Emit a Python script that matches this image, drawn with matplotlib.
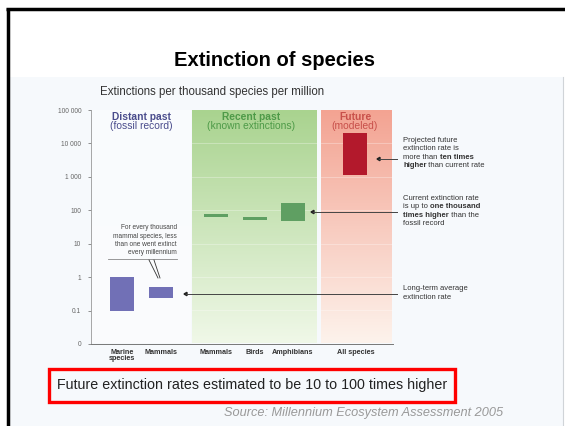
import numpy as np
import matplotlib
matplotlib.use('Agg')
import matplotlib.pyplot as plt
from matplotlib.patches import Rectangle, FancyArrow
from matplotlib.lines import Line2D

plt.rcParams['font.family'] = ['Liberation Sans', 'DejaVu Sans']

# data: extinctions per thousand species per million years (log scale)
categories = ['Marine\nspecies', 'Mammals', 'Mammals', 'Birds', 'Amphibians', 'All species']
rate_low = [0.1, 0.23, 65, 50, 47, 1150]
rate_high = [1.0, 0.5, 75, 65, 160, 20000]
period = ['distant', 'distant', 'recent', 'recent', 'recent', 'future']
ytick_vals = [0.01, 0.1, 1, 10, 100, 1000, 10000, 100000]
ytick_labels = ['0', '0.1', '1', '10', '100', '1 000', '10 000', '100 000']

# layout (pixels of the 565x426 picture)
W, H = 565, 426
bar_x = [31, 70, 125, 164, 202, 264.5]
bar_colors = {'distant': '#7170b6', 'recent': '#5f9f62', 'future': '#b3192c'}


def fx(x):
    return x / W


def fy(y):
    return 1 - y / H


fig = plt.figure(figsize=(W / 100, H / 100), dpi=100)

# slide frame and picture background
bg = fig.add_axes([0, 0, 1, 1], zorder=0)
bg.axis('off')
bg.add_patch(Rectangle((10, 77), 553, H - 77, color='#f6f9fc', lw=0))
bg.plot([563, 563], [77, H], color='#d0d4d8', lw=0.8)
bg.plot([6, W], [9, 9], color='black', lw=2.5, solid_capstyle='butt')
bg.plot([8, 8], [8, H], color='black', lw=2.5, solid_capstyle='butt')


# gradient panels behind the chart
def gradient(x0, x1, top, bottom):
    grad = np.linspace(0, 1, 256)[:, None, None]
    c0 = np.array(matplotlib.colors.to_rgb(top))[None, None, :]
    c1 = np.array(matplotlib.colors.to_rgb(bottom))[None, None, :]
    img = c0 * (1 - grad) + c1 * grad
    bg.imshow(img, extent=[x0, x1, 343, 110], aspect='auto', zorder=1)


gradient(192, 317, '#a9d38f', '#f0f8e8')
gradient(321, 392, '#f3a392', '#fdf3ec')
gradient(92, 191, '#f9fbfd', '#fbfcfe')
bg.set_xlim(0, W)
bg.set_ylim(H, 0)
for yy in np.arange(110, 343, 33.4)[1:]:
    bg.plot([192, 317], [yy, yy], color='white', lw=0.6, alpha=0.35, zorder=2)
    bg.plot([321, 392], [yy, yy], color='white', lw=0.6, alpha=0.35, zorder=2)

# main log-scale axes
ax = fig.add_axes([fx(91), fy(344), fx(302), 234 / H], zorder=2)
ax.patch.set_alpha(0)
ax.set_yscale('log')
ax.set_ylim(0.01, 100000)
ax.set_xlim(0, 302)

for x, lo, hi, p in zip(bar_x, rate_low, rate_high, period):
    ax.bar(x, hi - lo, bottom=lo, width=24, color=bar_colors[p], lw=0, zorder=3)

ax.set_yticks(ytick_vals)
ax.set_yticklabels(ytick_labels)
ax.minorticks_off()
ax.tick_params(axis='y', labelsize=4.8, colors='#666666', length=2, width=0.5, pad=5)
ax.set_xticks([])
for s in ['top', 'right']:
    ax.spines[s].set_visible(False)
ax.spines['left'].set_color('#999999')
ax.spines['left'].set_linewidth(0.6)
ax.spines['bottom'].set_color('#777777')
ax.spines['bottom'].set_linewidth(0.7)

# category labels
for x, c in zip(bar_x, categories):
    ax.text(x, -0.02, c, transform=ax.get_xaxis_transform(), ha='center', va='top',
            fontsize=5.2, fontweight='bold', color='#333333', linespacing=0.95)

# panel headers
hdr = [(141, 'Distant past', '(fossil record)', '#4a4c8c'),
       (251, 'Recent past', '(known extinctions)', '#4e9a48'),
       (355, 'Future', '(modeled)', '#c8504a')]
for x, t1, t2, col in hdr:
    fig.text(fx(x), fy(117), t1, ha='center', va='center', fontsize=7.4, fontweight='bold', color=col)
    fig.text(fx(x), fy(126), t2, ha='center', va='center', fontsize=7.4, color=col)

# callout lines
fig.add_artist(Line2D([fx(108), fx(177)], [fy(259), fy(259)], color='#888888', lw=0.6))
fig.add_artist(Line2D([fx(149), fx(158)], [fy(260), fy(278)], color='#333333', lw=0.6))
fig.add_artist(Line2D([fx(154), fx(160)], [fy(260), fy(278)], color='#333333', lw=0.6))

arrows = [(397, 294, 184), (397, 212, 311), (397, 159, 377)]
for x0, y0, x1 in arrows:
    fig.add_artist(Line2D([fx(x0), fx(x1 + 2)], [fy(y0), fy(y0)], color='#444444', lw=0.7))
    fig.add_artist(FancyArrow(fx(x1 + 3), fy(y0), -fx(3), 0, width=0.0005, head_width=0.008,
                              head_length=fx(3), length_includes_head=True, color='#222222',
                              transform=fig.transFigure))

# note in the distant past panel
note = ['For every thousand', 'mammal species, less', 'than one went extinct', 'every millennium']
for i, line in enumerate(note):
    fig.text(fx(177), fy(228 + 8 * i), line, ha='right', va='center', fontsize=4.7, color='#444444')


# right-hand notes with bold fragments
def rich_line(x, y, parts):
    prev = None
    for txt, bold in parts:
        kw = dict(fontsize=5.5, color='#333333', fontweight='bold' if bold else 'normal')
        if prev is None:
            prev = fig.text(fx(x), fy(y), txt, ha='left', va='center', **kw)
        else:
            prev = fig.add_artist(matplotlib.text.Annotation(
                txt, xy=(1, 0), xycoords=prev, ha='left', va='bottom', annotation_clip=False, **kw))


notes = [
    (140, [[('Projected future', False)], [('extinction rate is', False)],
           [('more than ', False), ('ten times', True)],
           [('higher', True), (' than current rate', False)]]),
    (198, [[('Current extinction rate', False)], [('is up to ', False), ('one thousand', True)],
           [('times higher', True), (' than the', False)], [('fossil record', False)]]),
    (289, [[('Long-term average', False)], [('extinction rate', False)]]),
]
for y0, lines in notes:
    for i, parts in enumerate(lines):
        rich_line(403, y0 + 8.6 * i, parts)

# titles
fig.text(fx(274), fy(61), 'Extinction of species', ha='center', va='center',
         fontsize=14.5, fontweight='bold', color='black')
fig.text(fx(212), fy(92), 'Extinctions per thousand species per million', ha='center',
         va='center', fontsize=8.3, color='#333333')

# highlighted statement box
bg.add_patch(Rectangle((49, 369), 406, 33, fill=False, edgecolor='#ff0000', lw=2.4, zorder=5))
fig.text(fx(57), fy(385), 'Future extinction rates estimated to be 10 to 100 times higher',
         ha='left', va='center', fontsize=10.3, color='#222222')
fig.text(fx(503), fy(413), 'Source: Millennium Ecosystem Assessment 2005', ha='right',
         va='center', fontsize=9.2, style='italic', color='#999999')

fig.savefig('out.png', dpi=100)
